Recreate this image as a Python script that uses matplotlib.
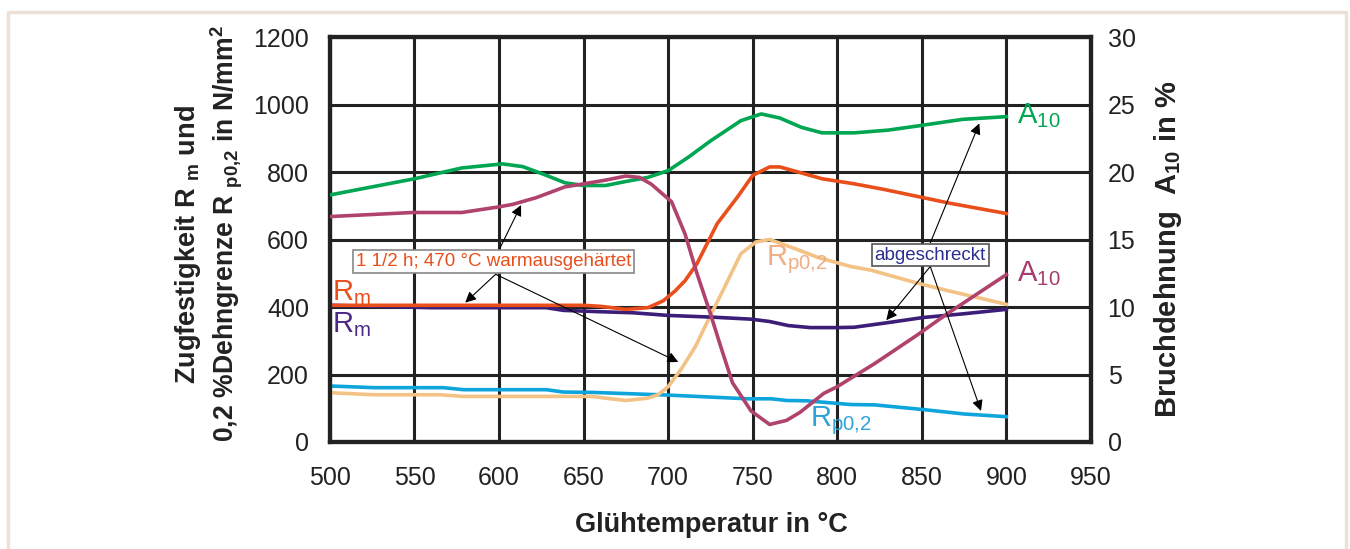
import matplotlib
matplotlib.use("Agg")
import matplotlib.pyplot as plt
from matplotlib.lines import Line2D

plt.rcParams['font.family'] = ['Liberation Sans', 'DejaVu Sans']
plt.rcParams['mathtext.fontset'] = 'custom'
plt.rcParams['mathtext.rm'] = 'Liberation Sans'
plt.rcParams['mathtext.bf'] = 'Liberation Sans:bold'
plt.rcParams['mathtext.it'] = 'Liberation Sans:italic'

# --- data ---
# A10 (%) after 1 1/2 h at 470 C (green)
t_a10_warm = [500, 525, 550, 578, 602, 614, 627, 639, 650, 663, 675, 688, 700,
              712, 725, 743, 755, 766, 779, 791, 810, 830, 847, 874, 900]
a10_warm = [18.3, 18.9, 19.5, 20.3, 20.6, 20.4, 19.8, 19.2, 19.0, 19.0, 19.3, 19.6, 20.1,
            21.1, 22.3, 23.8, 24.3, 24.0, 23.3, 22.9, 22.9, 23.1, 23.4, 23.9, 24.1]

# A10 (%) quenched (magenta)
t_a10_quench = [500, 549, 578, 599, 608, 622, 639, 649, 663, 675, 683, 690, 702, 710,
                717, 725, 731, 738, 749, 760, 770, 778, 792, 800, 822, 847, 865, 900]
a10_quench = [16.7, 17.0, 17.0, 17.4, 17.6, 18.1, 18.9, 19.1, 19.4, 19.7, 19.6, 19.1, 17.8, 15.4,
              12.5, 9.5, 7.1, 4.4, 2.3, 1.3, 1.6, 2.2, 3.6, 4.1, 5.8, 7.9, 9.5, 12.4]

# Rm (N/mm2) warm aged (orange)
t_rm_warm = [500, 550, 600, 650, 660, 675, 688, 697, 704, 710, 717, 729, 741, 750,
             760, 766, 779, 791, 810, 828, 847, 866, 900]
rm_warm = [405, 405, 405, 405, 402, 393, 398, 418, 447, 478, 528, 647, 726, 790,
           815, 815, 797, 780, 765, 748, 728, 708, 677]

# Rm (N/mm2) quenched (purple)
t_rm_quench = [500, 560, 600, 628, 638, 660, 679, 700, 726, 749, 760, 771, 784, 800,
               810, 829, 851, 875, 900]
rm_quench = [405, 398, 398, 398, 390, 386, 383, 375, 370, 364, 357, 345, 339, 339,
             340, 353, 369, 380, 393]

# Rp0,2 (N/mm2) warm aged (tan)
t_rp_warm = [500, 526, 565, 579, 655, 666, 675, 688, 694, 700, 708, 716, 725, 733,
             743, 752, 760, 775, 789, 808, 820, 845, 864, 900]
rp_warm = [146, 140, 140, 135, 135, 128, 123, 130, 140, 164, 218, 282, 375, 455,
           558, 593, 600, 573, 546, 520, 509, 474, 450, 408]

# Rp0,2 (N/mm2) quenched (blue)
t_rp_quench = [500, 526, 567, 579, 628, 638, 655, 700, 747, 761, 770, 782, 808, 822,
               851, 875, 900]
rp_quench = [166, 161, 161, 155, 155, 148, 147, 139, 128, 128, 123, 122, 111, 110,
             96, 83, 75]

x_ticks = [500, 550, 600, 650, 700, 750, 800, 850, 900, 950]
y_ticks = [0, 200, 400, 600, 800, 1000, 1200]
y2_ticks = [0, 5, 10, 15, 20, 25, 30]

GREEN = '#00A651'
MAGENTA = '#B0426E'
ORANGE = '#E94E1B'
PURPLE = '#3C1E78'
TAN = '#F3C285'
BLUE = '#0EA5DC'
DARK = '#222222'

fig = plt.figure(figsize=(13.5, 5.49), dpi=100)
ax = fig.add_axes([0.2444, 0.1949, 0.5637, 0.7377])
ax2 = ax.twinx()

ax.set_xlim(500, 950)
ax.set_ylim(0, 1200)
ax2.set_ylim(0, 30)
ax.set_xticks(x_ticks)
ax.set_yticks(y_ticks)
ax2.set_yticks(y2_ticks)

ax.grid(True, color=DARK, lw=2.2)
ax.set_axisbelow(True)
for a in (ax, ax2):
    for s in a.spines.values():
        s.set_color(DARK)
        s.set_linewidth(3)
ax.spines['top'].set_color('#444444')
ax.tick_params(axis='both', length=0, labelsize=18, colors=DARK)
ax.tick_params(axis='x', pad=17)
ax.tick_params(axis='y', pad=15)
ax2.tick_params(axis='y', length=0, labelsize=18, colors=DARK, pad=12)

lw = 2.6
ax.plot(t_rp_quench, rp_quench, color=BLUE, lw=lw, zorder=3)
ax.plot(t_rp_warm, rp_warm, color=TAN, lw=lw, zorder=3)
ax.plot(t_rm_quench, rm_quench, color=PURPLE, lw=lw, zorder=3)
ax.plot(t_rm_warm, rm_warm, color=ORANGE, lw=lw, zorder=3)
ax2.plot(t_a10_warm, a10_warm, color=GREEN, lw=lw, zorder=3)
ax2.plot(t_a10_quench, a10_quench, color=MAGENTA, lw=lw, zorder=3)

# curve labels
ax.text(501, 420, r'$\mathrm{R_{m}}$', color=ORANGE, fontsize=21, ha='left', va='baseline')
ax.text(501, 325, r'$\mathrm{R_{m}}$', color='#4B2A86', fontsize=21, ha='left', va='baseline')
ax.text(758, 525, r'$\mathrm{R_{p0{,}2}}$', color='#EFAE83', fontsize=21, ha='left', va='baseline')
ax.text(784, 48, r'$\mathrm{R_{p0{,}2}}$', color='#2FA3D6', fontsize=21, ha='left', va='baseline')
ax2.text(906, 23.6, r'$\mathrm{A_{10}}$', color=GREEN, fontsize=21, ha='left', va='baseline')
ax2.text(906, 11.9, r'$\mathrm{A_{10}}$', color='#A63C6E', fontsize=21, ha='left', va='baseline')

# annotation boxes and arrows (drawn on ax2 so they sit above all curves)
arrow = dict(arrowstyle='-|>', color='black', lw=0.8, mutation_scale=16, shrinkA=0, shrinkB=0)
ax2.text(597, 535 / 40, '1 1/2 h; 470 °C warmausgehärtet', color=ORANGE, fontsize=13.5,
         ha='center', va='center', zorder=6,
         bbox=dict(boxstyle='square,pad=0.15', fc='white', ec='#888888', lw=1.2))
warm_top = (600, 569)
warm_bottom = (598, 497)
for src, dst in [(warm_top, (613, 702)), (warm_bottom, (580, 413)), (warm_bottom, (706, 237))]:
    ax2.annotate('', xy=dst, xytext=src, xycoords=ax.transData, textcoords=ax.transData,
                 arrowprops=arrow, zorder=5)

ax2.text(855, 554 / 40, 'abgeschreckt', color='#2B2F8F', fontsize=13.5,
         ha='center', va='center', zorder=6,
         bbox=dict(boxstyle='square,pad=0.15', fc='white', ec='#555555', lw=1.2))
q_top = (855, 590)
q_bottom = (855, 520)
for src, dst in [(q_top, (884, 944)), (q_bottom, (829, 361)), (q_bottom, (885, 92))]:
    ax2.annotate('', xy=dst, xytext=src, xycoords=ax.transData, textcoords=ax.transData,
                 arrowprops=arrow, zorder=5)

# axis titles
fig.text(0.139, 0.554, r'$\mathbf{Zugfestigkeit\ R\ _{m}\ und}$', rotation=90,
         fontsize=19.5, color=DARK, ha='center', va='center')
fig.text(0.168, 0.574, r'$\mathbf{0{,}2\ \%Dehngrenze\ R\ _{p0{,}2}\ in\ N/mm^{2}}$',
         rotation=90, fontsize=19.2, color=DARK, ha='center', va='center')
fig.text(0.865, 0.546, r'$\mathbf{Bruchdehnung\ \ A_{10}\ in\ \%}$', rotation=90,
         fontsize=21, color=DARK, ha='center', va='center')
fig.text(0.527, 0.044, 'Glühtemperatur in °C', fontsize=19.5, fontweight='bold',
         color=DARK, ha='center', va='center')

# light frame around the figure
frame_x = [8 / 1350, 8 / 1350, 1346 / 1350, 1346 / 1350]
frame_y = [0, 1 - 11.5 / 549, 1 - 11.5 / 549, 0]
fig.add_artist(Line2D(frame_x, frame_y, transform=fig.transFigure, color='#EDE0D6', lw=2.5))

fig.savefig('out.png', dpi=100)
